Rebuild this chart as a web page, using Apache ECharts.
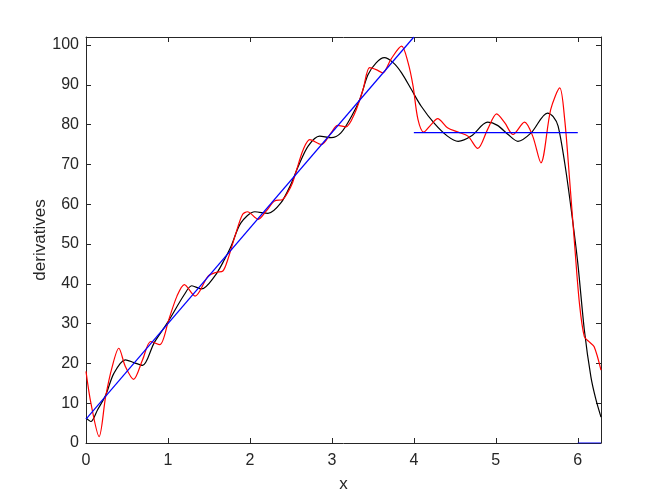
<!DOCTYPE html>
<html>
<head>
<meta charset="utf-8">
<script src="https://cdn.jsdelivr.net/npm/echarts@6/dist/echarts.min.js"></script>
<style>html,body{margin:0;padding:0;background:#fff;}#c{width:664px;height:498px;}</style>
</head>
<body>
<div id="c"></div>
<script>
var TWO_PI = 6.283185;
var xTicks = [0, 1, 2, 3, 4, 5, 6];
var yTicks = [0, 10, 20, 30, 40, 50, 60, 70, 80, 90, 100];

// Black curve (low-order approximation)
var blackX = [0, 0.06, 0.14, 0.24, 0.34, 0.48, 0.585, 0.69, 0.83, 0.99, 1.2, 1.29, 1.41, 1.57, 1.69, 1.77, 1.89, 2.06, 2.22, 2.38, 2.5, 2.59, 2.71, 2.85, 2.99, 3.11, 3.24, 3.34, 3.44, 3.54, 3.64, 3.75, 3.85, 3.97, 4.09, 4.25, 4.41, 4.54, 4.7, 4.9, 5.02, 5.15, 5.27, 5.43, 5.63, 5.7, 5.76, 5.84, 5.92, 6.0, 6.08, 6.16, 6.22, 6.2832];
var blackY = [6.3, 5.4, 8.3, 12, 17.5, 20.9, 20.2, 19.5, 25.1, 30.1, 37.3, 39.5, 38.7, 41.9, 46.1, 49.4, 55.3, 58.1, 57.7, 60.4, 65, 69.5, 74.6, 77.1, 76.7, 77.9, 82.1, 86.3, 92.5, 95.5, 96.8, 95.5, 93, 88.8, 84.6, 80.3, 77.1, 75.8, 77.1, 80.6, 79.8, 77.5, 75.8, 77.9, 82.9, 82.0, 79.6, 70.4, 58.6, 45.2, 28.4, 16.6, 11, 6.5];

// Red curve (high-order approximation)
var redX = [0, 0.06, 0.16, 0.24, 0.32, 0.4, 0.48, 0.58, 0.69, 0.79, 0.9, 1.01, 1.11, 1.2, 1.33, 1.49, 1.59, 1.67, 1.73, 1.83, 1.91, 1.97, 2.1, 2.2, 2.3, 2.4, 2.46, 2.52, 2.59, 2.65, 2.73, 2.87, 2.99, 3.07, 3.17, 3.28, 3.38, 3.46, 3.54, 3.62, 3.72, 3.85, 3.93, 3.99, 4.05, 4.12, 4.21, 4.29, 4.41, 4.54, 4.66, 4.78, 4.9, 5.01, 5.11, 5.21, 5.35, 5.45, 5.55, 5.67, 5.78, 5.84, 5.9, 5.96, 6.02, 6.08, 6.14, 6.2, 6.2832];
var redY = [18, 10, 1.6, 11.7, 19.2, 23.8, 19.2, 16.0, 20.9, 25.5, 24.7, 31, 36.9, 39.8, 36.9, 41.9, 42.9, 43.2, 46.1, 52.8, 57.4, 58.1, 56.2, 58.3, 60.8, 61.2, 62.9, 65.4, 70, 73.7, 76.2, 75, 77.9, 79.8, 79.4, 82.9, 88.8, 94.3, 93.8, 93, 96.4, 99.7, 95.5, 89.7, 81.3, 78.1, 80, 81.5, 79.2, 78.1, 77.1, 74, 78.8, 82.7, 80.4, 77.5, 80.6, 77.1, 70.4, 83.8, 89.2, 81.3, 66.2, 50.2, 35.1, 26.7, 25.4, 24.2, 18.3];

// Blue piecewise function segments
var blueRampX = [0, 4];
var blueRampY = [6, 102];
var blueFlatX = [4, 6];
var blueFlatY = [78, 78];
var blueZeroX = [6, TWO_PI];
var blueZeroY = [0, 0];

function pairs(xs, ys) { return xs.map(function (x, i) { return [x, ys[i]]; }); }

var axisColor = '#262626';
var font = 'Liberation Sans, Arial, Helvetica, sans-serif';

var chart = echarts.init(document.getElementById('c'), null, {renderer: 'canvas'});
function baseX(extra) {
  return Object.assign({
    type: 'value', min: 0, max: TWO_PI, interval: 1,
    splitLine: {show: false},
    axisLine: {show: true, onZero: false, lineStyle: {color: axisColor, width: 1}},
    axisTick: {show: true, inside: true, length: 5, lineStyle: {color: axisColor}},
    axisLabel: {show: true, color: axisColor, fontSize: 16, fontFamily: font, margin: 10,
      formatter: function (v) { return xTicks.indexOf(Math.round(v * 1000) / 1000) >= 0 ? String(v) : ''; }}
  }, extra);
}
function baseY(extra) {
  return Object.assign({
    type: 'value', min: 0, max: 102, interval: 10,
    splitLine: {show: false},
    axisLine: {show: true, onZero: false, lineStyle: {color: axisColor, width: 1}},
    axisTick: {show: true, inside: true, length: 5, lineStyle: {color: axisColor}},
    axisLabel: {show: true, color: axisColor, fontSize: 16, fontFamily: font, margin: 7,
      formatter: function (v) { return yTicks.indexOf(v) >= 0 ? String(v) : ''; }}
  }, extra);
}

chart.setOption({
  animation: false,
  backgroundColor: '#ffffff',
  grid: {left: 86, top: 37, width: 515, height: 406, show: false},
  xAxis: [
    baseX({position: 'bottom', name: 'x', nameLocation: 'middle', nameGap: 33, nameMoveOverlap: false,
      nameTextStyle: {color: axisColor, fontSize: 17, fontFamily: font}}),
    baseX({position: 'top', axisLabel: {show: false}})
  ],
  yAxis: [
    baseY({position: 'left', name: 'derivatives', nameLocation: 'middle', nameGap: 37, nameMoveOverlap: false,
      nameTextStyle: {color: axisColor, fontSize: 17, fontFamily: font}}),
    baseY({position: 'right', axisLabel: {show: false}})
  ],
  series: [
    {type: 'line', data: pairs(blackX, blackY), showSymbol: false, symbol: 'none', smooth: 0.3,
      lineStyle: {color: '#000000', width: 1.2}, z: 3},
    {type: 'line', data: pairs(redX, redY), showSymbol: false, symbol: 'none', smooth: 0.3,
      lineStyle: {color: '#ff0000', width: 1.2}, z: 4},
    {type: 'line', data: pairs(blueRampX, blueRampY), showSymbol: false, symbol: 'none',
      lineStyle: {color: '#0000ff', width: 1.2}, z: 5},
    {type: 'line', data: pairs(blueFlatX, blueFlatY), showSymbol: false, symbol: 'none',
      lineStyle: {color: '#0000ff', width: 1.2}, z: 5},
    {type: 'line', data: pairs(blueZeroX, blueZeroY), showSymbol: false, symbol: 'none',
      lineStyle: {color: '#0000ff', width: 1.2}, z: 5}
  ]
});
</script>
</body>
</html>
